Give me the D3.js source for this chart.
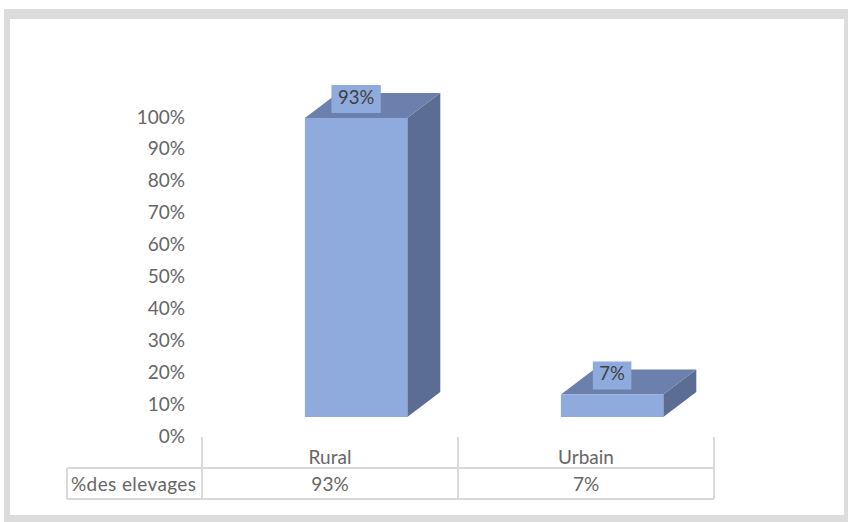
<!DOCTYPE html>
<html>
<head>
<meta charset="utf-8">
<script src="https://cdn.jsdelivr.net/npm/d3@7/dist/d3.min.js"></script>
<style>
  html, body { margin: 0; padding: 0; background: #ffffff; }
  svg { display: block; }
</style>
</head>
<body>
<svg id="chart" width="848" height="522"></svg>
<script>
// Share of livestock farms by area
const categories = ["Rural", "Urbain"];
const values = [93, 7];
const seriesName = "%des elevages";
const yTicks = [0, 10, 20, 30, 40, 50, 60, 70, 80, 90, 100];

const W = 848, H = 522;
const FONT = "Lato, 'Open Sans', 'Liberation Sans', sans-serif";
const svg = d3.select("#chart");

// outer frame
svg.append("rect").attr("x", 4).attr("y", 9).attr("width", W).attr("height", H)
  .attr("fill", "#dcdcdc");
svg.append("rect").attr("x", 10).attr("y", 19).attr("width", 834).attr("height", 496)
  .attr("fill", "#ffffff");

// scales
const x = d3.scaleBand().domain(categories).range([202, 714]).paddingInner(0).paddingOuter(0);
const yAxis = d3.scaleLinear().domain([0, 100]).range([436, 117]);
// front faces of the 3D columns sit forward of the back wall
const yFront = d3.scaleLinear().domain([0, 93]).range([417, 118]);
const depth = { dx: 33, dy: -25 };
const barW = x.bandwidth() * 0.4;

// value axis (labels only)
const axisG = svg.append("g").attr("transform", "translate(185,0)")
  .call(d3.axisLeft(yAxis).tickValues(yTicks).tickSize(0).tickPadding(0)
    .tickFormat(d => d + "%"));
axisG.select(".domain").remove();
axisG.selectAll("text")
  .attr("fill", "#666666").attr("font-size", 19).attr("font-family", FONT);

// 3D columns
const colFront = "#8faadc", colTop = "#6b80ad", colSide = "#5b6d92";
const bars = svg.append("g");
categories.forEach((c, i) => {
  const v = values[i];
  const x0 = x(c) + (x.bandwidth() - barW) / 2 + barW * 0.25 + 0.5;
  const x1 = x0 + barW;
  const yT = yFront(v), yB = yFront(0);
  const g = bars.append("g");
  // right side
  g.append("path").attr("fill", colSide)
    .attr("d", `M${x1},${yT}L${x1 + depth.dx},${yT + depth.dy}L${x1 + depth.dx},${yB + depth.dy}L${x1},${yB}Z`);
  // top
  g.append("path").attr("fill", colTop)
    .attr("d", `M${x0},${yT}L${x1},${yT}L${x1 + depth.dx},${yT + depth.dy}L${x0 + depth.dx},${yT + depth.dy}Z`);
  // front
  g.append("rect").attr("fill", colFront)
    .attr("x", x0).attr("y", yT).attr("width", barW).attr("height", yB - yT);

  // data label box
  const cx = (x0 + x1) / 2;
  const label = v + "%";
  const t = g.append("text").attr("x", cx).attr("y", yT - 19)
    .attr("text-anchor", "middle").attr("dominant-baseline", "middle")
    .attr("font-size", 18.5).attr("font-family", FONT).attr("fill", "#404040")
    .text(label);
  const bw = t.node().getComputedTextLength() + 13;
  g.insert("rect", "text").attr("fill", colFront)
    .attr("x", cx - bw / 2).attr("y", yT - 33).attr("width", bw).attr("height", 28);
});

// data table below the plot
const line = "#d9d9d9";
const tbl = svg.append("g").attr("stroke", line).attr("stroke-width", 2).attr("fill", "none");
const rowTop = 468, rowBot = 499, tLeft = 67;
[202, 458, 714].forEach(xx => {
  tbl.append("line").attr("x1", xx).attr("x2", xx).attr("y1", 437).attr("y2", rowBot);
});
tbl.append("line").attr("x1", tLeft).attr("x2", tLeft).attr("y1", rowTop).attr("y2", rowBot);
tbl.append("line").attr("x1", tLeft).attr("x2", 714).attr("y1", rowTop).attr("y2", rowTop);
tbl.append("line").attr("x1", tLeft).attr("x2", 714).attr("y1", rowBot).attr("y2", rowBot);

const txt = svg.append("g").attr("font-family", FONT).attr("font-size", 19).attr("fill", "#666666");
categories.forEach((c, i) => {
  const cx = x(c) + x.bandwidth() / 2;
  txt.append("text").attr("x", cx).attr("y", 459).attr("text-anchor", "middle")
    .attr("dominant-baseline", "middle").text(c);
  txt.append("text").attr("x", cx).attr("y", 486).attr("text-anchor", "middle")
    .attr("dominant-baseline", "middle").text(values[i] + "%");
});
txt.append("text").attr("x", 71).attr("y", 486).attr("dominant-baseline", "middle")
  .attr("textLength", 125).attr("lengthAdjust", "spacing")
  .text(seriesName);
</script>
</body>
</html>
